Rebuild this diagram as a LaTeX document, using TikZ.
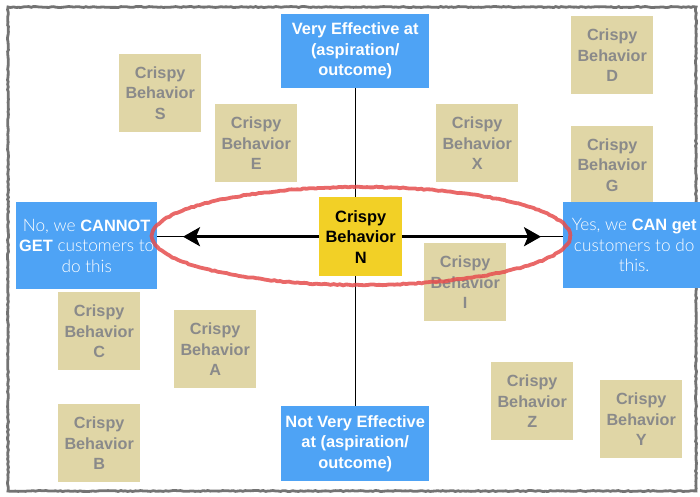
\documentclass[tikz,border=0pt]{standalone}
\usepackage{fontspec}
\setmainfont{Liberation Sans}
\newfontfamily\lightfont{Lato}[UprightFont=* Light, Scale=1.05]
\usetikzlibrary{arrows.meta,decorations.pathmorphing}

\definecolor{boxblue}{RGB}{78,163,245}
\definecolor{notetan}{RGB}{224,214,166}
\definecolor{notegray}{RGB}{138,138,138}
\definecolor{keyyellow}{RGB}{242,208,38}
\definecolor{ringred}{RGB}{230,78,78}
\definecolor{framegray}{RGB}{115,115,115}
\definecolor{shadowgray}{RGB}{200,200,200}

\tikzset{
  note/.style={fill=notetan, anchor=north west, minimum width=82pt, minimum height=78pt,
    inner sep=0pt, align=center, text=notegray,
    font=\fontsize{16.2}{20.5}\selectfont\bfseries},
  axisbox/.style={fill=boxblue, anchor=north west, inner sep=0pt, align=center, text=white,
    font=\fontsize{16.4}{20.5}\selectfont},
  keynote/.style={fill=keyyellow, anchor=north west, minimum width=83pt, minimum height=79pt,
    inner sep=0pt, align=center, text=black, font=\fontsize{16.4}{20.5}\selectfont\bfseries},
  axisline/.style={black, line width=0.8pt},
  bigarrow/.style={black, line width=2.8pt, -{Stealth[length=17pt,width=19pt,inset=4pt]}},
}

\begin{document}
\begin{tikzpicture}[x=1pt, y=-1pt]
  \useasboundingbox (0,0) rectangle (700,496);
  \clip (0,0) rectangle (700,496);
  \fill[white] (0,0) rectangle (700,496);

  % rough outer frame
  \draw[framegray, line width=2.8pt, decorate,
        decoration={random steps, segment length=2.5pt, amplitude=0.5pt}]
        (8,7) rectangle (696,491);

  % behaviour notes
  \node[note] (S) at (119,54)  {Crispy\\Behavior\\S};
  \node[note] (E) at (215,104) {Crispy\\Behavior\\E};
  \node[note] (D) at (571,16)  {Crispy\\Behavior\\D};
  \node[note] (X) at (436,104) {Crispy\\Behavior\\X};
  \node[note] (G) at (571,126) {Crispy\\Behavior\\G};
  \node[note] (I) at (424,243) {Crispy\\Behavior\\I};
  \node[note] (C) at (58,292)  {Crispy\\Behavior\\C};
  \node[note] (A) at (174,310) {Crispy\\Behavior\\A};
  \node[note] (B) at (58,404)  {Crispy\\Behavior\\B};
  \node[note] (Z) at (491,362) {Crispy\\Behavior\\Z};
  \node[note] (Y) at (600,380) {Crispy\\Behavior\\Y};

  % axis end boxes
  \node[axisbox, minimum width=148pt, minimum height=74pt] (top) at (281,14)
    {\bfseries Very Effective at\\\bfseries (aspiration/\\\bfseries outcome)};
  \node[axisbox, minimum width=148pt, minimum height=75pt] (bottom) at (281,406)
    {\bfseries Not Very Effective\\\bfseries at (aspiration/\\\bfseries outcome)};
  \node[axisbox, minimum width=141pt, minimum height=87pt] (left) at (16,202)
    {{\lightfont No, we }\textbf{CANNOT}\\\textbf{GET}{\lightfont\ customers to}\\{\lightfont do this}};
  \node[axisbox, minimum width=142pt, minimum height=86pt] (right) at (563,202)
    {{\lightfont Yes, we }\textbf{CAN get}\\{\lightfont customers to do}\\{\lightfont this.}};

  % axes
  \draw[axisline] (top.south -| 355.7,0) -- (bottom.north -| 355.7,0);
  \draw[axisline] (left.east |- 0,236.7) -- (right.west |- 0,236.7);

  % centre note
  \node[keynote] (N) at (319,197) {Crispy\\Behavior\\N};

  % arrows out of the centre note
  \coordinate (ltip) at (183,236.7);
  \coordinate (rtip) at (541,236.7);
  \draw[bigarrow] (N.west |- 0,236.7) -- (ltip);
  \draw[bigarrow] (N.east |- 0,236.7) -- (rtip);

  % red ring round the horizontal axis
  \draw[ringred, line width=3.8pt, opacity=0.85, decorate,
        decoration={random steps, segment length=3pt, amplitude=0.5pt}]
        (361,236) ellipse [x radius=209, y radius=49];
\end{tikzpicture}
\end{document}
